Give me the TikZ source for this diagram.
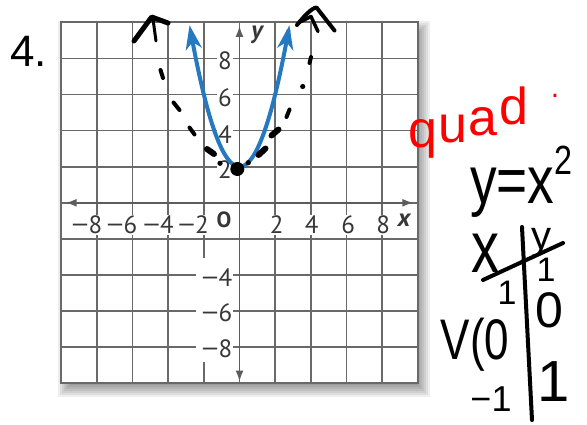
\documentclass[tikz,border=0pt]{standalone}
\usepackage{fontspec}
\setmainfont{Liberation Sans}
\newfontfamily\labfont{PT Sans}
\usepackage{graphicx}
\usetikzlibrary{arrows.meta}
\definecolor{gridgray}{RGB}{105,105,105}
\definecolor{axisgray}{RGB}{92,92,92}
\definecolor{labgray}{RGB}{55,55,55}
\definecolor{curveblue}{RGB}{36,121,192}
\definecolor{inkred}{RGB}{255,0,0}
\newcommand{\negsign}{\scalebox{1.35}[1]{−}}
\begin{document}
\begin{tikzpicture}[x=1pt,y=-1pt,
  gridline/.style={draw=gridgray, line width=1.6pt},
  frameline/.style={draw=gridgray, line width=2.2pt},
  axisline/.style={draw=axisgray, line width=1.7pt},
  numlab/.style={font=\labfont\fontsize{25}{25}\selectfont, text=labgray, fill=white, inner sep=1pt},
  axlab/.style={font=\labfont\bfseries\itshape\fontsize{25}{25}\selectfont, text=labgray, inner sep=1pt},
  ink/.style={draw=black, line width=4pt, line cap=round, line join=round},
  handtext/.style={text=black, inner sep=0pt},
  redtext/.style={text=inkred, inner sep=0pt, anchor=base, font=\fontsize{52}{52}\selectfont},
]
\useasboundingbox (0,0) rectangle (587,424);
\fill[white] (0,0) rectangle (587,424);

% drop shadow of the graph card
\foreach \e in {-6,-4,-2,0,2,4,6,8} {
  \fill[black, opacity=0.065] (66-\e,29-\e) rectangle (422+\e,389+\e);
}

% graph
\begin{scope}[shift={(239.5,202.8)}, x=17.83pt, y=18.05pt]
  \fill[white] (-10,-10) rectangle (10,10);
  \foreach \i in {-8,-6,...,8} {
    \draw[gridline] (\i,-10) -- (\i,10);
    \draw[gridline] (-10,\i) -- (10,\i);
  }
  \draw[frameline] (-10,-10) rectangle (10,10);
  \coordinate (xl) at (-9.75,0);
  \coordinate (xr) at (9.75,0);
  \coordinate (yt) at (0,9.8);
  \coordinate (yb) at (0,-9.9);
\end{scope}

% white box behind the negative y labels
\fill[white] (196,258) rectangle (233,362);

% axes
\draw[axisline, {Latex[length=11pt,width=8pt]}-{Latex[length=11pt,width=8pt]}] (xl) -- (xr);
\draw[axisline, {Latex[length=11pt,width=8pt]}-{Latex[length=11pt,width=8pt]}] (yb) -- (yt);

% axis numbers
\node[numlab] (y8) at (225,61) {8};
\node[numlab] (y6) at (225,97.5) {6};
\node[numlab] (y4) at (225,134.5) {4};
\node[numlab] (y2) at (225,169.5) {2};
\node[numlab, anchor=east] (ym4) at (233.5,277.5) {\negsign4};
\node[numlab, anchor=east] (ym6) at (233.5,312.5) {\negsign6};
\node[numlab, anchor=east] (ym8) at (233.5,348.5) {\negsign8};
\node[numlab, anchor=east] (xm8) at (103.5,225) {\negsign8};
\node[numlab, anchor=east] (xm6) at (138.5,225) {\negsign6};
\node[numlab, anchor=east] (xm4) at (175,225) {\negsign4};
\node[numlab, anchor=east] (xm2) at (210,225) {\negsign2};
\node[numlab] (x2) at (276.7,225) {2};
\node[numlab] (x4) at (311.7,225) {4};
\node[numlab] (x6) at (348.3,225) {6};
\node[numlab] (x8) at (383.3,225) {8};
\node[font=\labfont\bfseries\fontsize{22}{22}\selectfont, text=labgray, inner sep=0pt] (orig) at (224,220) {O};
\node[axlab] (xlab) at (404,220) {x};
\node[axlab] (ylab) at (257,35) {y};

% problem number
\node[anchor=base west, font=\fontsize{44}{44}\selectfont, inner sep=0pt] (num) at (10,66.7) {4.};

% blue parabola y = x^2 + 2
\begin{scope}[shift={(239.5,202.8)}, x=17.83pt, y=18.05pt]
  \draw[curveblue, line width=4pt,
        {Stealth[length=24pt,width=16pt,inset=7pt]}-{Stealth[length=24pt,width=16pt,inset=7pt]}]
    plot[domain=-2.8:2.8, samples=80, smooth] (\x,{\x*\x+2});
\end{scope}

% hand-drawn dashed parabola
\draw[ink] (160.5,70) -- (163,78);
\draw[ink] (173.5,102.5) -- (179.5,110);
\draw[ink] (189.5,127.5) -- (194.5,134.5);
\draw[ink, line width=6pt] (207,149) -- (214,154);
\fill (220,163.3) circle[radius=2.6];
\fill (237.3,169) circle[radius=7];
\fill (248.3,162.7) circle[radius=2.6];
\draw[ink, line width=6pt] (258.5,155) -- (265.5,148.5);
\draw[ink, line width=6pt] (271.5,135.5) -- (278.5,129.5);
\draw[ink] (286.5,117) -- (289.5,109.5);
\fill (302.7,86.5) circle[radius=2.6];
\draw[ink] (309.5,63) -- (311,57);
% hand-drawn arrow heads
\draw[ink, line width=5pt] (134,41) -- (151.7,17) -- (168,23);
\draw[ink, line width=3pt] (153,19) -- (156,41);
\draw[ink] (297,25) .. controls (305,15) and (312,8) .. (316.5,7.5) -- (334.5,30.5);
\draw[ink, line width=3.5pt] (300,22) -- (311,16.5) -- (318,31.5);

% red note, written on a rising line
\node[redtext] (qq) at (423,147) {q};
\node[redtext] (qu) at (453,142) {u};
\node[redtext] (qa) at (483,135) {a};
\node[redtext] (qd) at (514,124) {d};
\node[redtext, font=\fontsize{30}{30}\selectfont] (qdot) at (555,97) {.};

% equation and table of values
\node[handtext, anchor=base west, font=\fontsize{56}{56}\selectfont] (eq) at (470,203)
  {\scalebox{0.95}[1.2]{y=x\raisebox{24pt}{\fontsize{34}{34}\selectfont 2}}};
\coordinate (vt) at (522,227);
\coordinate (vb) at (532,420);
\coordinate (hl) at (483,280);
\coordinate (hr) at (563,243);
\draw[ink] (vt) -- (vb);
\draw[ink] (hl) -- (hr);
\node[handtext, font=\fontsize{56}{56}\selectfont] (hx) at (485,253) {\scalebox{1}[1.3]{x}};
\node[handtext, font=\fontsize{40}{40}\selectfont] (hy) at (541,243) {y};
\node[handtext, font=\fontsize{34}{34}\selectfont] (r1l) at (507,293) {1};
\node[handtext, font=\fontsize{34}{34}\selectfont] (r1r) at (546,270) {1};
\node[handtext, font=\fontsize{44}{44}\selectfont] (r2l) at (475,345) {\scalebox{1}[1.3]{V(0}};
\node[handtext, font=\fontsize{50}{50}\selectfont] (r2r) at (549,310) {0};
\node[handtext, font=\fontsize{36}{36}\selectfont] (r3l) at (491,399) {−1};
\node[handtext, font=\fontsize{58}{58}\selectfont] (r3r) at (554,382) {1};
\end{tikzpicture}
\end{document}
